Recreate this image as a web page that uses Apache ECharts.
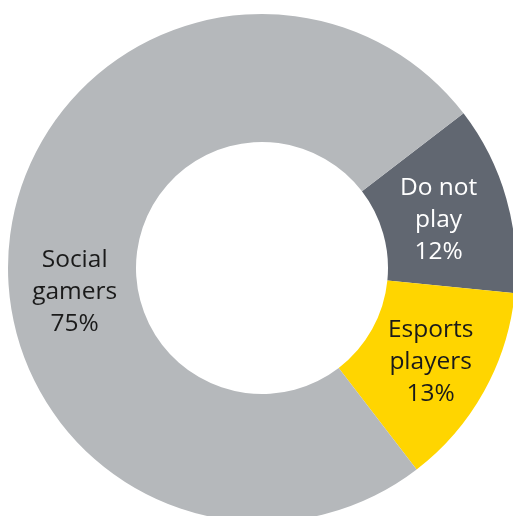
<!DOCTYPE html>
<html>
<head>
<meta charset="utf-8">
<style>
  html, body { margin: 0; padding: 0; background: #ffffff; }
  #chart { width: 513px; height: 516px; }
</style>
<script src="https://cdn.jsdelivr.net/npm/echarts@6/dist/echarts.min.js"></script>
</head>
<body>
<div id="chart"></div>
<script>
// Share of respondents by gaming behaviour
const categories = ['Do not\nplay', 'Esports\nplayers', 'Social\ngamers'];
const shares = [12, 13, 75];
const sliceColors = ['#616771', '#ffd500', '#b5b8bb'];
const labelColors = ['#ffffff', '#1a1a1a', '#1a1a1a'];
const labelOffsets = [[-9, 5], [0, 0], [4, 49]];

const chart = echarts.init(document.getElementById('chart'), null, { renderer: 'canvas' });

chart.setOption({
  animation: false,
  series: [{
    type: 'pie',
    center: [262, 268],
    radius: [126, 254],
    startAngle: 37.5,
    clockwise: true,
    avoidLabelOverlap: false,
    emphasis: { disabled: true },
    label: {
      show: true,
      position: 'inside',
      fontFamily: 'Open Sans',
      fontSize: 24.5,
      lineHeight: 32,
      align: 'center',
      formatter: p => p.name + '\n' + p.value + '%'
    },
    labelLine: { show: false },
    data: categories.map((name, i) => ({
      name: name,
      value: shares[i],
      itemStyle: { color: sliceColors[i] },
      label: { color: labelColors[i], offset: labelOffsets[i] }
    }))
  }]
});
</script>
</body>
</html>
